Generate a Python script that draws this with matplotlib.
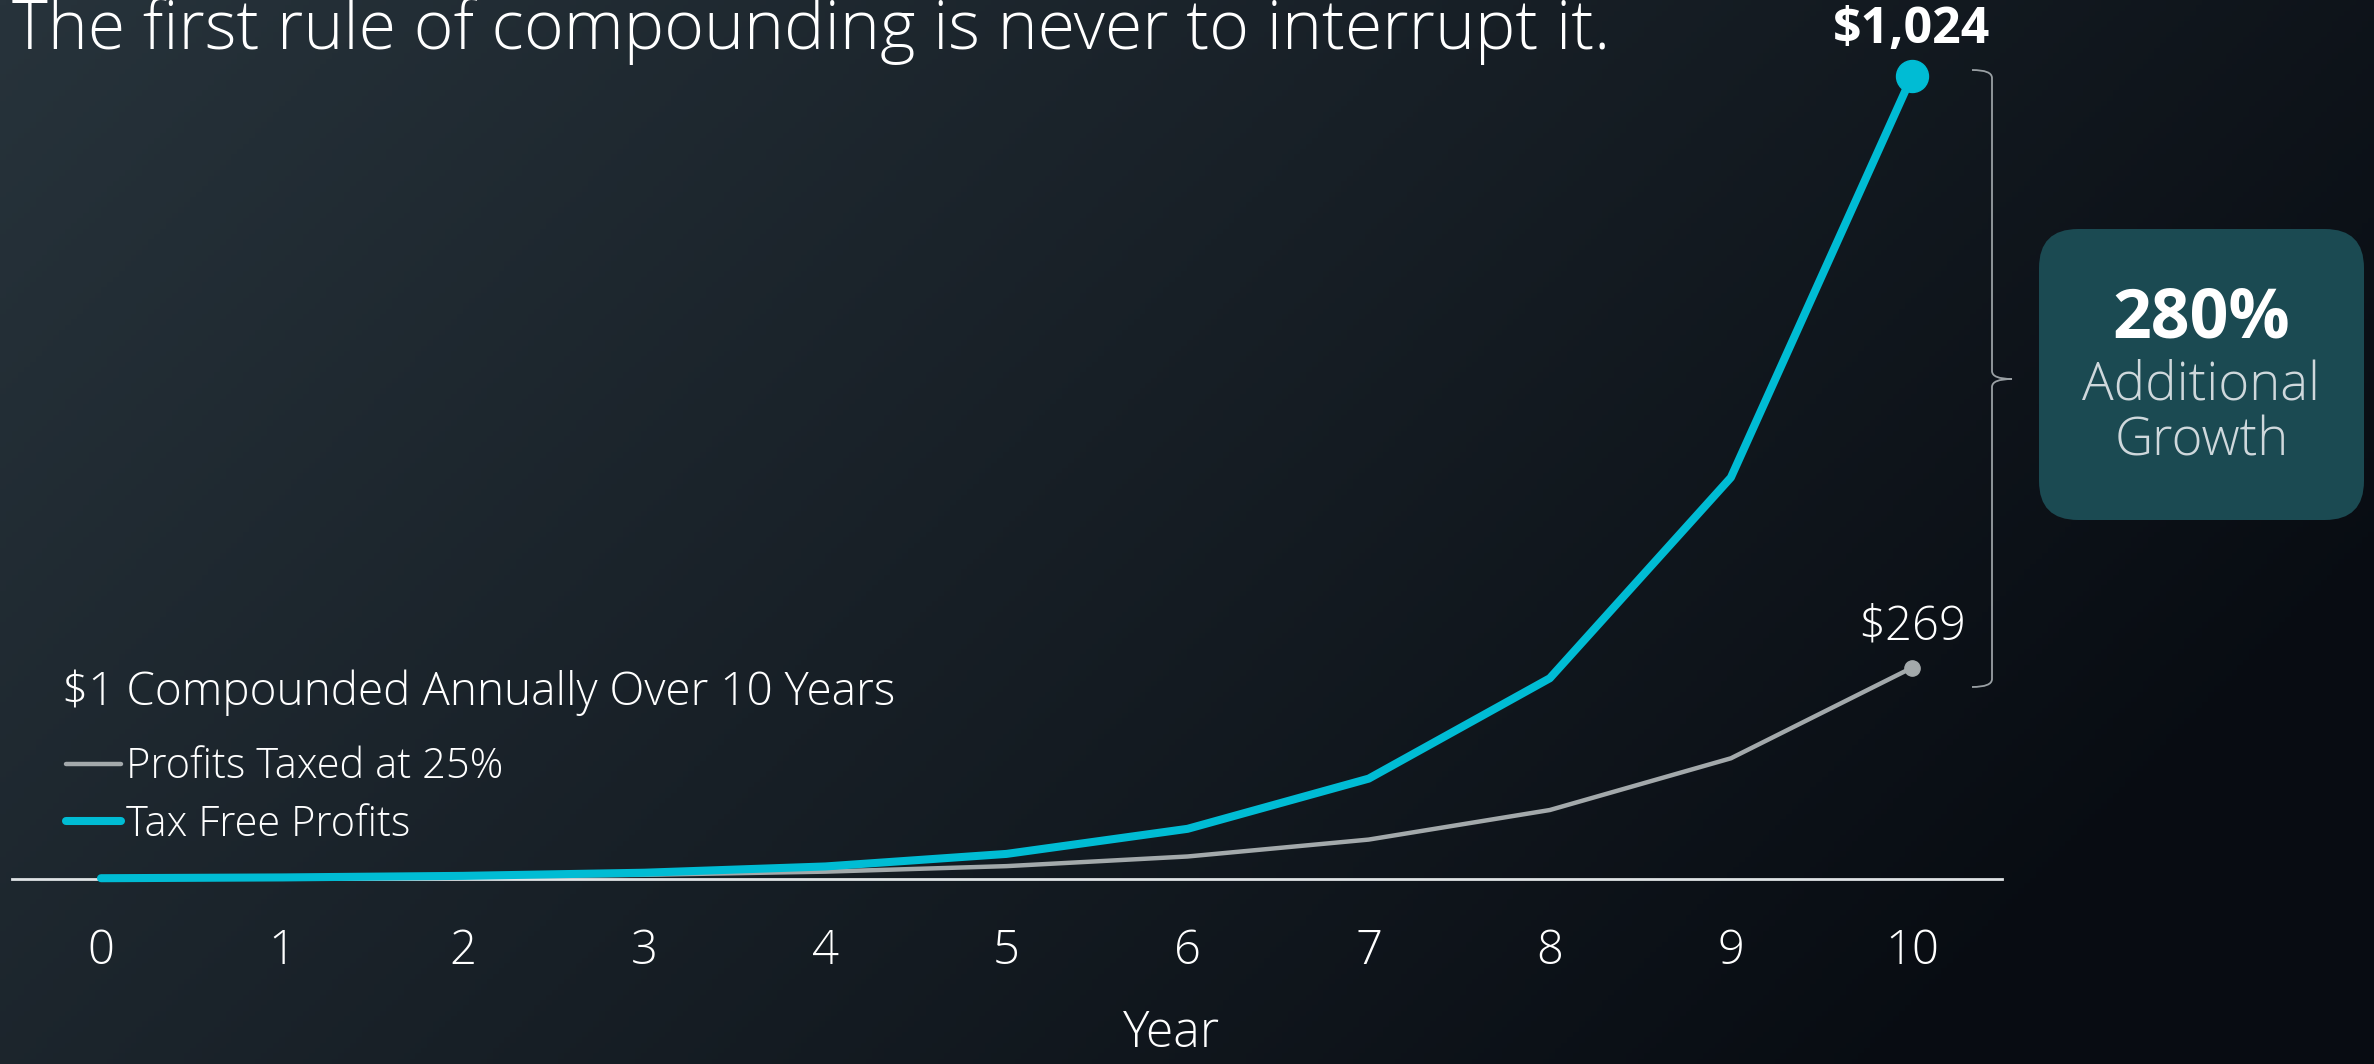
import numpy as np
import matplotlib
matplotlib.use("Agg")
import matplotlib.pyplot as plt
from matplotlib.patches import FancyBboxPatch, PathPatch
from matplotlib.path import Path

plt.rcParams["font.family"] = ["Open Sans", "DejaVu Sans"]

# data: $1 compounded over 10 years
years = [0, 1, 2, 3, 4, 5, 6, 7, 8, 9, 10]
tax_free = [1, 2, 4, 8, 16, 32, 64, 128, 256, 512, 1024]
taxed = [1, 1.75, 3.06, 5.36, 9.38, 16.41, 28.72, 50.27, 87.96, 153.94, 269.39]
tick_labels = [str(y) for y in years]

TEAL = "#00bcd4"
GREY = "#a3a9ab"
LW = "light"

W, H, DPI = 2374, 1064, 100
fig = plt.figure(figsize=(W / DPI, H / DPI), dpi=DPI)

# background gradient
bg = fig.add_axes([0, 0, 1, 1], zorder=-10)
gx, gy = np.meshgrid(np.linspace(0, 1, 400), np.linspace(0, 1, 200))
t = np.clip(0.8 * gx + 0.35 * gy, 0, 1)
c0 = np.array([0x27, 0x33, 0x3b]) / 255
c1 = np.array([0x08, 0x0c, 0x12]) / 255
img = c0[None, None, :] * (1 - t[..., None]) + c1[None, None, :] * t[..., None]
bg.imshow(img, aspect="auto", extent=[0, 1, 0, 1], origin="upper")
bg.axis("off")

# main axes: axis line from px 12 to 2002, y=0 at px 879, 1024 at px 76
left, right, ybot, ytop = 12, 2002, 879, 76
ax = fig.add_axes([left / W, (H - ybot) / H, (right - left) / W, (ybot - ytop) / H])
ax.set_facecolor("none")
ax.set_xlim((left - 101) / 181.1, (right - 101) / 181.1)
ax.set_ylim(0, 1024)

ax.plot(years, taxed, color=GREY, lw=3.2, solid_capstyle="round",
        marker="o", markevery=[-1], ms=11, label="Profits Taxed at 25%", clip_on=False)
ax.plot(years, tax_free, color=TEAL, lw=5.8, solid_capstyle="round",
        marker="o", markevery=[-1], ms=23, label="Tax Free Profits", clip_on=False, zorder=3)

for s in ["top", "right", "left"]:
    ax.spines[s].set_visible(False)
ax.spines["bottom"].set_color("#dfe3e5")
ax.spines["bottom"].set_linewidth(2)
ax.set_yticks([])
ax.set_xticks(years)
ax.set_xticklabels(tick_labels)
ax.tick_params(axis="x", length=0, pad=35, labelsize=34, labelcolor="white")
for lbl in ax.get_xticklabels():
    lbl.set_fontweight(LW)
ax.set_xlabel("Year", fontsize=36, color="white", fontweight=LW)
ax.xaxis.set_label_coords((1172 - left) / (right - left), -(1034 - ybot) / (ybot - ytop))
ax.xaxis.label.set_va("center")

# end labels
ax.annotate("\\$1,024", (years[-1], tax_free[-1]), xytext=(0, 33), textcoords="offset points",
            ha="center", va="center", fontsize=36, fontweight="bold", color="white",
            annotation_clip=False)
ax.annotate("\\$269", (years[-1], taxed[-1]), xytext=(0, 29), textcoords="offset points",
            ha="center", va="center", fontsize=34, fontweight=LW, color="white",
            annotation_clip=False)

# legend
fig.text(62 / W, 1 - 693 / H, "\\$1 Compounded Annually Over 10 Years", fontsize=33,
         fontweight=LW, color="white", ha="left", va="center")
leg = ax.legend(loc="upper left", bbox_to_anchor=(66 / W, (H - 746) / H),
                bbox_transform=fig.transFigure, frameon=False, fontsize=30,
                handlelength=1.32, handletextpad=0.12,
                labelspacing=0.36, borderpad=0, borderaxespad=0)
for txt in leg.get_texts():
    txt.set_color("white")
    txt.set_fontweight(LW)
for h in leg.legend_handles:
    h.set_marker("")

# title
fig.text(12 / W, 1 - 49 / H, "The first rule of compounding is never to interrupt it.",
         fontsize=49, fontweight=LW, color="white", ha="left", va="baseline")

# curly bracket (inches)
tr = fig.dpi_scale_trans
xv, xe, xt = 19.92, 19.72, 20.12
yt, yb, ym = 9.94, 3.77, 6.85
verts = [(xe, yt), (xv, yt), (xv, yt - 0.08),
         (xv, ym + 0.08),
         (xv, ym), (xt, ym),
         (xv, ym), (xv, ym - 0.08),
         (xv, yb + 0.08),
         (xv, yb), (xe, yb)]
codes = [Path.MOVETO, Path.CURVE3, Path.CURVE3,
         Path.LINETO,
         Path.CURVE3, Path.CURVE3,
         Path.CURVE3, Path.CURVE3,
         Path.LINETO,
         Path.CURVE3, Path.CURVE3]
fig.patches.append(PathPatch(Path(verts, codes), transform=tr, fill=False,
                             edgecolor="#9aa0a4", lw=1.3))

# callout box
box = FancyBboxPatch((20.39, 5.44), 3.25, 2.91, boxstyle="round,pad=0,rounding_size=0.39",
                     transform=tr, facecolor="#1b4a52", edgecolor="none")
fig.patches.append(box)
bx = 20.39 + 3.25 / 2
fig.text(bx, (H - 319) / 100, "280%", transform=tr, ha="center", va="center",
         fontsize=49, fontweight="bold", color="white")
fig.text(bx, (H - 386) / 100, "Additional", transform=tr, ha="center", va="center",
         fontsize=38, fontweight=LW, color="#cfd8dc")
fig.text(bx, (H - 442) / 100, "Growth", transform=tr, ha="center", va="center",
         fontsize=38, fontweight=LW, color="#cfd8dc")

fig.savefig("out.png", dpi=DPI)
